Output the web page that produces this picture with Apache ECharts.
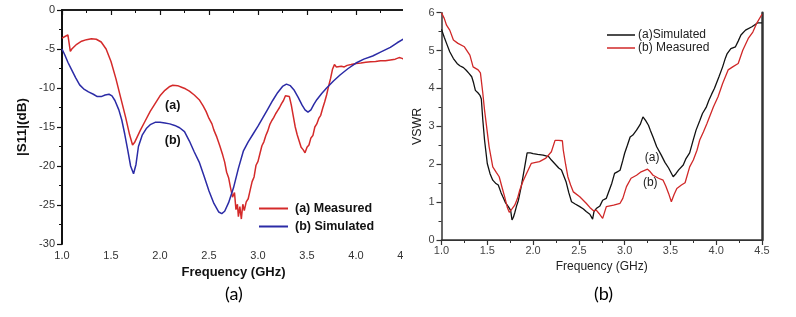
<!DOCTYPE html>
<html>
<head>
<meta charset="utf-8">
<script src="https://cdn.jsdelivr.net/npm/echarts@6/dist/echarts.min.js"></script>
<style>
html,body{margin:0;padding:0;background:#fff;width:796px;height:317px;overflow:hidden;}
#rightChart{position:absolute;left:0;top:0;width:796px;height:317px;}
#leftWrap{position:absolute;left:0;top:0;width:403px;height:317px;overflow:hidden;}
#leftChart{position:absolute;left:0;top:0;width:796px;height:317px;}
</style>
</head>
<body>
<div id="rightChart"></div>
<div id="leftWrap"><div id="leftChart"></div></div>
<script>
// ---- Panel (a): |S11| (dB) vs Frequency (GHz) ----
const s11Measured = [[1.00,-3.6],[1.03,-3.4],[1.06,-3.2],[1.075,-3.15],[1.085,-5.3],[1.10,-5.0],[1.15,-4.4],[1.20,-4.0],[1.25,-3.8],[1.30,-3.7],[1.35,-3.75],[1.40,-4.1],[1.45,-5.0],[1.50,-6.6],[1.55,-8.8],[1.60,-11.3],[1.65,-13.8],[1.69,-16.0],[1.72,-17.3],[1.74,-17.0],[1.77,-16.2],[1.80,-15.4],[1.85,-14.2],[1.90,-13.0],[1.95,-12.0],[2.00,-11.0],[2.05,-10.3],[2.10,-9.8],[2.13,-9.65],[2.15,-9.8],[2.18,-9.7],[2.22,-9.9],[2.26,-10.1],[2.30,-10.4],[2.35,-10.9],[2.40,-11.5],[2.44,-12.3],[2.47,-13.0],[2.50,-13.9],[2.53,-14.6],[2.55,-15.4],[2.58,-16.3],[2.61,-17.4],[2.64,-18.6],[2.66,-19.5],[2.68,-20.8],[2.70,-21.5],[2.72,-22.8],[2.74,-24.0],[2.76,-23.4],[2.775,-25.6],[2.79,-24.9],[2.80,-26.5],[2.815,-25.2],[2.83,-26.8],[2.845,-24.9],[2.86,-25.7],[2.88,-24.6],[2.90,-24.2],[2.92,-23.1],[2.94,-22.0],[2.96,-21.4],[2.98,-19.9],[3.00,-19.4],[3.02,-18.4],[3.04,-17.4],[3.06,-16.9],[3.08,-16.1],[3.10,-15.5],[3.12,-14.7],[3.14,-14.2],[3.16,-13.8],[3.18,-13.3],[3.20,-12.9],[3.22,-12.5],[3.24,-12.0],[3.26,-11.6],[3.28,-11.0],[3.30,-10.9],[3.32,-11.1],[3.34,-12.2],[3.36,-13.6],[3.38,-15.0],[3.40,-16.0],[3.42,-16.8],[3.44,-17.6],[3.46,-17.9],[3.48,-18.3],[3.50,-17.6],[3.52,-17.3],[3.54,-16.4],[3.56,-16.1],[3.58,-15.0],[3.60,-14.6],[3.62,-13.9],[3.64,-13.5],[3.66,-12.6],[3.68,-11.8],[3.70,-10.9],[3.72,-9.8],[3.74,-8.8],[3.76,-7.6],[3.78,-7.0],[3.80,-7.3],[3.82,-7.4],[3.85,-7.2],[3.88,-7.3],[3.91,-7.1],[3.95,-7.0],[4.00,-6.85],[4.05,-6.8],[4.10,-6.7],[4.15,-6.65],[4.20,-6.6],[4.25,-6.5],[4.30,-6.5],[4.35,-6.4],[4.40,-6.3],[4.44,-6.1],[4.47,-6.2],[4.50,-6.4]];
const s11Simulated = [[1.00,-5.0],[1.03,-5.8],[1.06,-6.7],[1.10,-7.7],[1.14,-8.7],[1.18,-9.6],[1.22,-10.1],[1.27,-10.5],[1.32,-10.8],[1.36,-11.1],[1.40,-11.1],[1.44,-10.9],[1.48,-10.8],[1.51,-11.0],[1.54,-11.6],[1.58,-12.8],[1.61,-14.1],[1.64,-15.9],[1.67,-17.9],[1.70,-20.0],[1.73,-21.0],[1.755,-19.8],[1.78,-17.5],[1.82,-16.0],[1.86,-15.2],[1.90,-14.7],[1.95,-14.4],[2.00,-14.4],[2.05,-14.5],[2.10,-14.6],[2.15,-14.8],[2.20,-15.1],[2.25,-15.6],[2.30,-16.8],[2.35,-18.2],[2.40,-19.5],[2.45,-21.3],[2.50,-23.2],[2.55,-24.8],[2.60,-25.9],[2.63,-26.1],[2.66,-25.8],[2.70,-24.7],[2.75,-22.8],[2.80,-20.3],[2.85,-18.1],[2.90,-16.9],[2.95,-15.9],[3.00,-14.9],[3.05,-13.8],[3.10,-12.7],[3.15,-11.6],[3.20,-10.6],[3.25,-9.8],[3.29,-9.5],[3.33,-9.7],[3.37,-10.3],[3.41,-11.2],[3.45,-12.2],[3.48,-12.8],[3.51,-13.1],[3.54,-12.8],[3.57,-12.1],[3.60,-11.5],[3.65,-10.7],[3.70,-10.0],[3.77,-9.1],[3.84,-8.3],[3.92,-7.5],[4.00,-6.8],[4.08,-6.3],[4.17,-5.9],[4.25,-5.4],[4.35,-4.8],[4.42,-4.2],[4.50,-3.6]];
const s11Names = ['(a) Measured', '(b) Simulated'];
const s11Annot = [{text:'(a)', coord:[2.13,-12.3]}, {text:'(b)', coord:[2.13,-16.7]}];

// ---- Panel (b): VSWR vs Frequency (GHz) ----
const vswrSimulated = [[1.00,5.56],[1.03,5.35],[1.055,5.19],[1.09,4.97],[1.13,4.79],[1.17,4.66],[1.20,4.6],[1.24,4.55],[1.27,4.48],[1.30,4.40],[1.33,4.31],[1.35,4.15],[1.37,3.95],[1.40,3.88],[1.42,3.82],[1.435,3.72],[1.45,3.2],[1.47,2.64],[1.50,2.02],[1.53,1.75],[1.56,1.58],[1.59,1.50],[1.62,1.45],[1.65,1.25],[1.67,1.14],[1.70,0.98],[1.73,0.88],[1.755,0.78],[1.77,0.53],[1.785,0.6],[1.80,0.72],[1.82,0.9],[1.84,1.05],[1.87,1.4],[1.89,1.67],[1.91,1.95],[1.935,2.3],[1.95,2.33],[1.97,2.3],[2.00,2.28],[2.05,2.26],[2.11,2.24],[2.17,2.2],[2.20,2.11],[2.25,1.98],[2.28,1.9],[2.31,1.85],[2.36,1.54],[2.39,1.25],[2.42,1.01],[2.46,0.95],[2.51,0.88],[2.55,0.82],[2.58,0.75],[2.62,0.68],[2.65,0.55],[2.665,0.75],[2.69,0.83],[2.73,0.9],[2.76,1.05],[2.80,1.1],[2.82,1.14],[2.86,1.5],[2.89,1.76],[2.92,1.80],[2.95,1.84],[2.98,2.1],[3.00,2.29],[3.03,2.5],[3.06,2.72],[3.09,2.77],[3.13,2.9],[3.17,3.05],[3.20,3.25],[3.23,3.15],[3.26,3.03],[3.28,2.9],[3.31,2.72],[3.35,2.46],[3.40,2.24],[3.44,2.05],[3.48,1.9],[3.53,1.67],[3.56,1.75],[3.59,1.85],[3.64,1.98],[3.67,2.15],[3.71,2.3],[3.75,2.65],[3.78,2.9],[3.82,3.15],[3.85,3.34],[3.89,3.5],[3.92,3.69],[3.95,3.85],[3.98,4.0],[4.03,4.31],[4.07,4.57],[4.10,4.8],[4.12,4.92],[4.16,5.05],[4.21,5.1],[4.24,5.25],[4.27,5.41],[4.32,5.54],[4.39,5.63],[4.45,5.73],[4.50,5.73]];
const vswrMeasured = [[1.00,6.0],[1.03,5.85],[1.055,5.67],[1.09,5.54],[1.13,5.28],[1.18,5.19],[1.25,5.1],[1.31,4.88],[1.345,4.57],[1.40,4.49],[1.425,4.41],[1.45,3.9],[1.47,3.43],[1.52,2.46],[1.56,1.93],[1.60,1.78],[1.63,1.67],[1.66,1.4],[1.69,1.14],[1.72,0.85],[1.74,0.73],[1.77,0.82],[1.80,0.92],[1.83,1.1],[1.855,1.32],[1.89,1.55],[1.93,1.76],[1.98,2.02],[2.03,2.05],[2.07,2.07],[2.14,2.16],[2.20,2.33],[2.24,2.63],[2.28,2.63],[2.32,2.62],[2.33,2.37],[2.355,2.0],[2.38,1.67],[2.41,1.45],[2.44,1.27],[2.51,1.14],[2.58,0.97],[2.62,0.86],[2.66,0.77],[2.69,0.79],[2.72,0.7],[2.76,0.57],[2.80,0.88],[2.88,0.92],[2.95,0.97],[2.98,1.1],[3.02,1.41],[3.07,1.63],[3.13,1.71],[3.18,1.8],[3.25,1.87],[3.28,1.8],[3.31,1.71],[3.37,1.63],[3.42,1.58],[3.45,1.42],[3.48,1.23],[3.51,1.01],[3.54,1.2],[3.57,1.36],[3.62,1.45],[3.66,1.51],[3.71,1.93],[3.75,2.11],[3.79,2.37],[3.82,2.64],[3.86,2.85],[3.90,3.08],[3.97,3.52],[4.02,3.78],[4.07,4.13],[4.13,4.49],[4.18,4.57],[4.24,4.66],[4.29,5.01],[4.35,5.32],[4.40,5.49],[4.44,5.71],[4.50,5.96]];
const vswrNames = ['(a)Simulated', '(b) Measured'];
const vswrAnnot = [{text:'(a)', coord:[3.30,2.16]}, {text:'(b)', coord:[3.28,1.5]}];

const FONT = 'Liberation Sans, Arial, sans-serif';

function annot(list, style) {
  return {
    symbol: 'circle', symbolSize: 0, silent: true,
    label: Object.assign({show: true, position: 'inside', formatter: p => p.name, fontFamily: FONT}, style),
    data: list.map(a => ({name: a.text, coord: a.coord}))
  };
}

// ---------- Left chart ----------
const left = echarts.init(document.getElementById('leftChart'), null, {renderer: 'canvas'});
left.setOption({
  animation: false,
  grid: {left: 62, right: 391, top: 10, bottom: 73},
  legend: {
    orient: 'vertical', left: 254, top: 197, itemWidth: 29, itemHeight: 2, itemGap: 5,
    icon: 'rect', selectedMode: false,
    textStyle: {fontFamily: FONT, fontSize: 12.5, fontWeight: 'bold', color: '#111', padding: [0,0,0,2]},
    data: s11Names
  },
  xAxis: [{
    type: 'value', min: 1, max: 4.5, interval: 0.5,
    name: 'Frequency (GHz)', nameLocation: 'middle', nameGap: 20,
    nameTextStyle: {fontFamily: FONT, fontSize: 13, fontWeight: 'bold', color: '#111'},
    axisLine: {show: true, lineStyle: {color: '#111', width: 1.5}},
    axisTick: {show: true, length: 5, lineStyle: {color: '#111', width: 1.2}},
    minorTick: {show: true, splitNumber: 2, length: 3, lineStyle: {color: '#111', width: 1}},
    axisLabel: {fontFamily: FONT, fontSize: 11, color: '#333', margin: 6, formatter: v => v.toFixed(1)},
    splitLine: {show: false}
  }, {
    type: 'value', min: 1, max: 4.5, position: 'top',
    axisLine: {show: true, lineStyle: {color: '#111', width: 1.5}},
    axisTick: {show: false}, axisLabel: {show: false}, splitLine: {show: false}
  }],
  yAxis: {
    type: 'value', min: -30, max: 0, interval: 5,
    name: '|S11|(dB)', nameLocation: 'middle', nameGap: 33,
    nameTextStyle: {fontFamily: FONT, fontSize: 13.5, fontWeight: 'bold', color: '#111'},
    axisLine: {show: true, lineStyle: {color: '#111', width: 2}},
    axisTick: {show: true, length: 5, lineStyle: {color: '#111', width: 1.2}},
    minorTick: {show: true, splitNumber: 2, length: 3, lineStyle: {color: '#111', width: 1}},
    axisLabel: {fontFamily: FONT, fontSize: 11, color: '#333', margin: 7},
    splitLine: {show: false}
  },
  series: [{
    name: s11Names[0], type: 'line', data: s11Measured, showSymbol: false,
    lineStyle: {color: '#d42a2a', width: 1.5}, itemStyle: {color: '#d42a2a'},
    markPoint: annot(s11Annot, {fontSize: 12.5, fontWeight: 'bold', color: '#111'})
  }, {
    name: s11Names[1], type: 'line', data: s11Simulated, showSymbol: false,
    lineStyle: {color: '#2b2ba6', width: 1.5}, itemStyle: {color: '#2b2ba6'}
  }],
  graphic: [{
    type: 'text', left: 225, top: 285,
    style: {text: '(a)', fontFamily: 'Lato, Open Sans, sans-serif', fontSize: 18, fill: '#000'}
  }]
});

// ---------- Right chart ----------
const right = echarts.init(document.getElementById('rightChart'), null, {renderer: 'canvas'});
right.setOption({
  animation: false,
  grid: {left: 441.5, right: 34, top: 12.7, bottom: 77},
  legend: {
    orient: 'vertical', left: 602, top: 24, itemWidth: 28, itemHeight: 1.5, itemGap: 1,
    icon: 'rect', selectedMode: false,
    textStyle: {fontFamily: FONT, fontSize: 12, color: '#222', padding: [0,0,0,-2]},
    data: vswrNames
  },
  xAxis: [{
    type: 'value', min: 1, max: 4.5, interval: 0.5,
    name: 'Frequency (GHz)', nameLocation: 'middle', nameGap: 19,
    nameTextStyle: {fontFamily: FONT, fontSize: 12, color: '#222'},
    axisLine: {show: true, lineStyle: {color: '#333', width: 1.5}},
    axisTick: {show: true, length: 5, lineStyle: {color: '#333', width: 1.2}},
    minorTick: {show: true, splitNumber: 2, length: 3, lineStyle: {color: '#333', width: 1}},
    axisLabel: {fontFamily: FONT, fontSize: 11, color: '#444', margin: 5, formatter: v => v.toFixed(1)},
    splitLine: {show: false}
  }, {
    type: 'value', min: 1, max: 4.5, position: 'top',
    axisLine: {show: true, lineStyle: {color: '#333', width: 1.2}},
    axisTick: {show: false}, axisLabel: {show: false}, splitLine: {show: false}
  }],
  yAxis: [{
    type: 'value', min: 0, max: 6, interval: 1,
    name: 'VSWR', nameLocation: 'middle', nameGap: 13,
    nameTextStyle: {fontFamily: FONT, fontSize: 12.5, color: '#222'},
    axisLine: {show: true, lineStyle: {color: '#333', width: 1.5}},
    axisTick: {show: true, length: 5, lineStyle: {color: '#333', width: 1.2}},
    minorTick: {show: true, splitNumber: 2, length: 3, lineStyle: {color: '#333', width: 1}},
    axisLabel: {fontFamily: FONT, fontSize: 11, color: '#444', margin: 7},
    splitLine: {show: false}
  }, {
    type: 'value', min: 0, max: 6, position: 'right',
    axisLine: {show: true, lineStyle: {color: '#333', width: 2.5}},
    axisTick: {show: false}, axisLabel: {show: false}, splitLine: {show: false}
  }],
  series: [{
    name: vswrNames[0], type: 'line', data: vswrSimulated, showSymbol: false,
    lineStyle: {color: '#111', width: 1.3}, itemStyle: {color: '#111'},
    markPoint: annot(vswrAnnot, {fontSize: 12, color: '#222'})
  }, {
    name: vswrNames[1], type: 'line', data: vswrMeasured, showSymbol: false,
    lineStyle: {color: '#d02828', width: 1.3}, itemStyle: {color: '#d02828'}
  }],
  graphic: [{
    type: 'text', left: 594, top: 285,
    style: {text: '(b)', fontFamily: 'Lato, Open Sans, sans-serif', fontSize: 18, fill: '#000'}
  }]
});
</script>
</body>
</html>
